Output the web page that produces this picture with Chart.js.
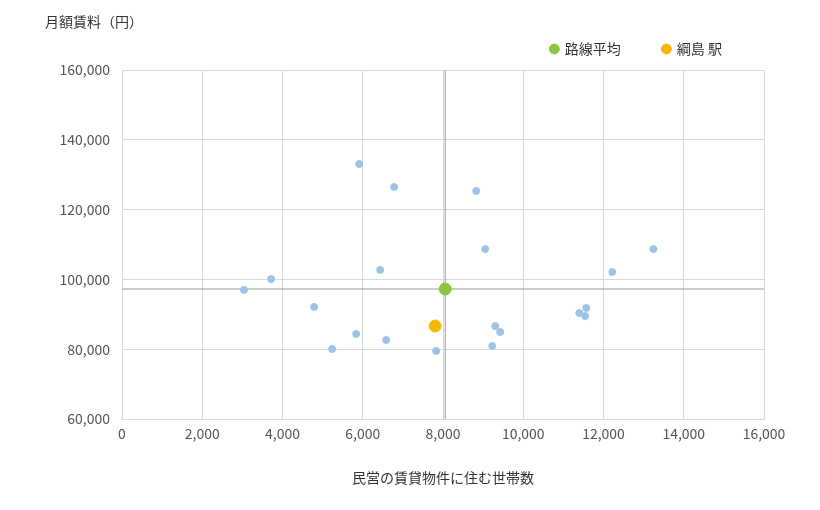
<!DOCTYPE html>
<html><head><meta charset="utf-8">
<script src="https://cdn.jsdelivr.net/npm/chart.js@4"></script>
<style>body{margin:0;background:#fff}#w{width:820px;height:510px}</style>
</head><body><div id="w"><canvas id="c"></canvas></div>
<script>
const stationX = [3040,3716,4788,5237,5835,5910,6434,6584,6783,7830,8828,9052,9227,9302,9426,11397,11546,11571,12219,13242];
const stationY = [97000,100100,92100,80050,84360,133070,102700,82640,126480,79500,125330,108710,80920,86650,84930,90370,89510,91800,102120,108710];
const avgPoint = {x:8055, y:97250};
const targetPoint = {x:7805, y:86650};
const xRange = [0,16000], yRange = [60000,160000];
const F = '"Meiryo","Noto Sans CJK JP",sans-serif';

const titlePlugin = {id:'t', afterDraw(ch){const c=ch.ctx;c.save();c.font='14px '+F;c.fillStyle='#333';c.textBaseline='middle';c.fillText('月額賃料（円）',45,22);c.restore();}};
const legendFit = {id:'lf', beforeInit(ch){const l=ch.legend; if(!l) return; const f=l.fit.bind(l); l.fit=function(){f(); this.height=70; };}};

new Chart(document.getElementById('c'), {
  type:'scatter',
  data:{datasets:[
    {label:'路線平均', data:[avgPoint], backgroundColor:'#8cc63f', borderColor:'#8cc63f', pointRadius:6, order:1},
    {label:'綱島 駅', data:[targetPoint], backgroundColor:'#f5b800', borderColor:'#f5b800', pointRadius:6, order:1},
    {label:'stations', data:stationX.map((x,i)=>({x, y:stationY[i]})), backgroundColor:'#9dc3e6', borderColor:'#9dc3e6', pointRadius:3.5, order:2},
    {label:'vline', data:[{x:avgPoint.x,y:yRange[0]},{x:avgPoint.x,y:yRange[1]}], showLine:true, borderColor:'#999', borderWidth:1, pointRadius:0, order:3},
    {label:'hline', data:[{x:xRange[0],y:avgPoint.y},{x:xRange[1],y:avgPoint.y}], showLine:true, borderColor:'#999', borderWidth:1, pointRadius:0, order:3}
  ]},
  options:{
    animation:false, responsive:true, maintainAspectRatio:false,
    layout:{padding:{left:0,right:56,top:0,bottom:20}},
    plugins:{
      legend:{position:'top', align:'end',
        labels:{filter:i=>i.datasetIndex<2, usePointStyle:true, pointStyle:'circle', boxWidth:7, boxHeight:7, padding:42, color:'#333', font:{family:F,size:14}}},
      tooltip:{enabled:false}
    },
    scales:{
      x:{type:'linear', min:xRange[0], max:xRange[1],
        ticks:{stepSize:2000, color:'#555', font:{family:F,size:14}, callback:v=>v.toLocaleString('en-US'), padding:6},
        grid:{color:'#d9d9d9', drawTicks:false}, border:{color:'#d9d9d9'},
        title:{display:true, text:'民営の賃貸物件に住む世帯数', color:'#333', font:{family:F,size:14}, padding:{top:18}},
        afterFit(s){s.height=71;}},
      y:{min:yRange[0], max:yRange[1],
        ticks:{stepSize:20000, color:'#555', font:{family:F,size:14}, callback:v=>v.toLocaleString('en-US'), padding:12},
        grid:{color:'#d9d9d9', drawTicks:false}, border:{color:'#d9d9d9'},
        afterFit(s){s.width=122;}}
    }
  },
  plugins:[titlePlugin, legendFit]
});
</script></body></html>
